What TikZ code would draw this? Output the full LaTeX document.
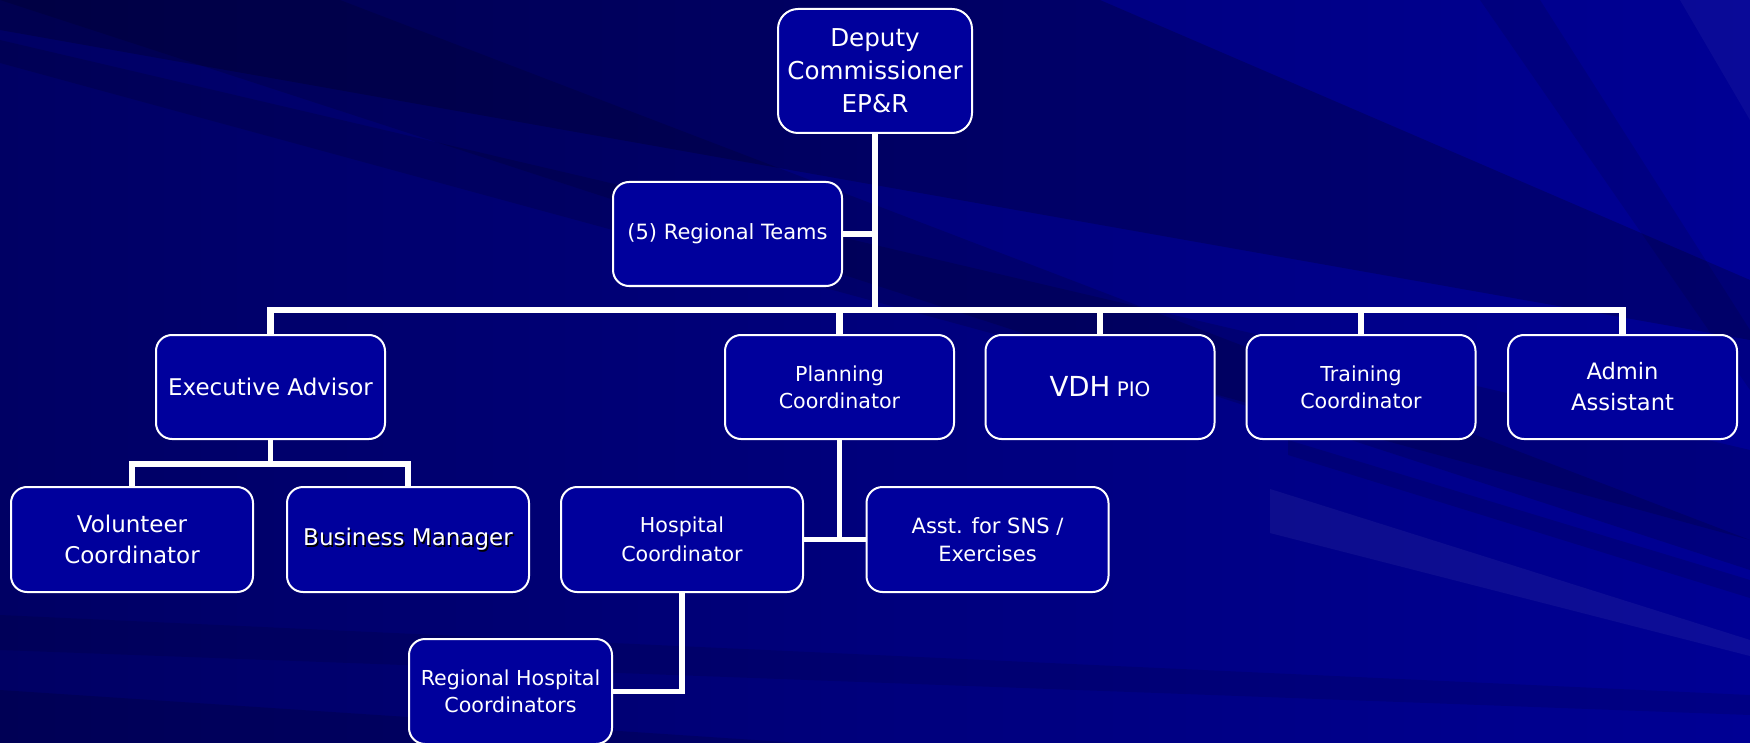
\documentclass[tikz,border=0pt]{standalone}
\usepackage{fontspec}
\setmainfont{DejaVu Sans}
\definecolor{boxfill}{RGB}{0,0,156}
\definecolor{bgleft}{RGB}{0,0,100}
\definecolor{bgright}{RGB}{0,0,148}
\newcommand\myfs[2]{\fontsize{#1}{#2}\selectfont}
\pgfdeclarelayer{bgl}
\pgfdeclarelayer{lines}
\pgfsetlayers{bgl,lines,main}
\begin{document}
\begin{tikzpicture}[x=0.5pt,y=-0.5pt,
  box/.style={draw=white, line width=1pt, fill=boxfill, rounded corners=8pt, text=white, align=center, inner sep=0pt},
  rowone/.style={box, minimum width=114.5pt, minimum height=52pt},
  rowtwo/.style={box, minimum width=121pt, minimum height=52.5pt},
  mainline/.style={draw=white, line width=3.3pt},
  subline/.style={draw=white, line width=2.7pt},
  darkband/.style={fill=black, fill opacity=0.14},
  lightband/.style={fill=white, fill opacity=0.05},
]
\useasboundingbox (0,0) rectangle (1750,743);
% ---------- nodes ----------
\node[box, minimum width=97pt, minimum height=62pt, rounded corners=10pt, font=\myfs{12.3}{16.5}] (dep) at (875,71) {Deputy\\Commissioner\\EP\&R};
\node[box, minimum width=114.5pt, minimum height=52pt, font=\myfs{10.5}{13}] (rt) at (727.5,234) {(5) Regional Teams};
\node[rowone, font=\myfs{11.5}{14}] (exec) at (270.5,387) {Executive Advisor};
\node[rowone, font=\myfs{10.3}{13.5}] (plan) at (839.5,387) {Planning\\Coordinator};
\node[rowone] (vdh) at (1100,387) {{\myfs{13.8}{16}VDH} {\myfs{10}{12}PIO}};
\node[rowone, font=\myfs{10.3}{13.5}] (train) at (1361,387) {Training\\Coordinator};
\node[rowone, font=\myfs{11.3}{15.5}] (admin) at (1622.5,387) {Admin\\Assistant};
\node[rowtwo, font=\myfs{11.5}{15.8}] (vol) at (132,539.5) {Volunteer\\Coordinator};
\node[rowtwo] (bm) at (408,539.5) {};
\node[text=black, font=\myfs{11.5}{14}, inner sep=0pt] (bmshadow) at (409.5,541) {Business Manager};
\node[text=white, font=\myfs{11.5}{14}, inner sep=0pt] (bmtext) at (408,539.5) {Business Manager};
\node[rowtwo, font=\myfs{10.3}{14.3}] (hosp) at (682,539.5) {Hospital\\Coordinator};
\node[rowtwo, font=\myfs{10.5}{14.3}] (asst) at (987.5,539.5) {Asst. for SNS /\\Exercises};
\node[box, minimum width=101.5pt, minimum height=52.5pt, font=\myfs{10.3}{13.7}] (rh) at (510.5,691.5) {Regional Hospital\\Coordinators};
\coordinate (bar) at (0,310);
\coordinate (subbar) at (0,464);
% ---------- connectors ----------
\begin{pgfonlayer}{lines}
\draw[mainline] (dep.south) -- (dep.south |- bar);
\draw[mainline] (rt.east) -- (rt.east -| dep.south);
\draw[mainline] (exec.north) |- (admin.north |- bar) -- (admin.north);
\draw[mainline] (plan.north) -- (plan.north |- bar);
\draw[mainline] (vdh.north) -- (vdh.north |- bar);
\draw[mainline] (train.north) -- (train.north |- bar);
\draw[subline] (exec.south) -- (exec.south |- subbar);
\draw[subline] (vol.north) |- (bm.north |- subbar) -- (bm.north);
\draw[subline] (plan.south) -- (plan.south |- hosp.east);
\draw[subline] (hosp.east) -- (asst.west);
\draw[subline] (hosp.south) |- (rh.east);
\end{pgfonlayer}
% ---------- background ----------
\begin{pgfonlayer}{bgl}
\shade[left color=bgleft, right color=bgright] (0,0) rectangle (1750,743);
\fill[darkband, fill opacity=0.2] (0,0) -- (1100,0) -- (1750,280) -- (1750,340) -- (0,30) -- cycle;
\fill[darkband] (0,40) -- (1750,450) -- (1750,540) -- (0,63) -- cycle;
\fill[darkband] (0,0) -- (340,0) -- (1750,540) -- (1750,570) -- cycle;
\fill[darkband] (0,690) -- (0,743) -- (800,743) -- cycle;
\fill[darkband, fill opacity=0.1] (0,615) -- (1750,695) -- (1750,715) -- (0,650) -- cycle;
\fill[darkband, fill opacity=0.12] (1288,440) -- (1750,580) -- (1750,598) -- (1288,455) -- cycle;
\fill[darkband, fill opacity=0.1] (1480,0) -- (1540,0) -- (1750,330) -- (1750,390) -- cycle;
\fill[lightband] (1270,489) -- (1750,640) -- (1750,656) -- (1270,533) -- cycle;
\fill[lightband, fill opacity=0.04] (1680,0) -- (1750,0) -- (1750,120) -- cycle;
\end{pgfonlayer}
\end{tikzpicture}
\end{document}
